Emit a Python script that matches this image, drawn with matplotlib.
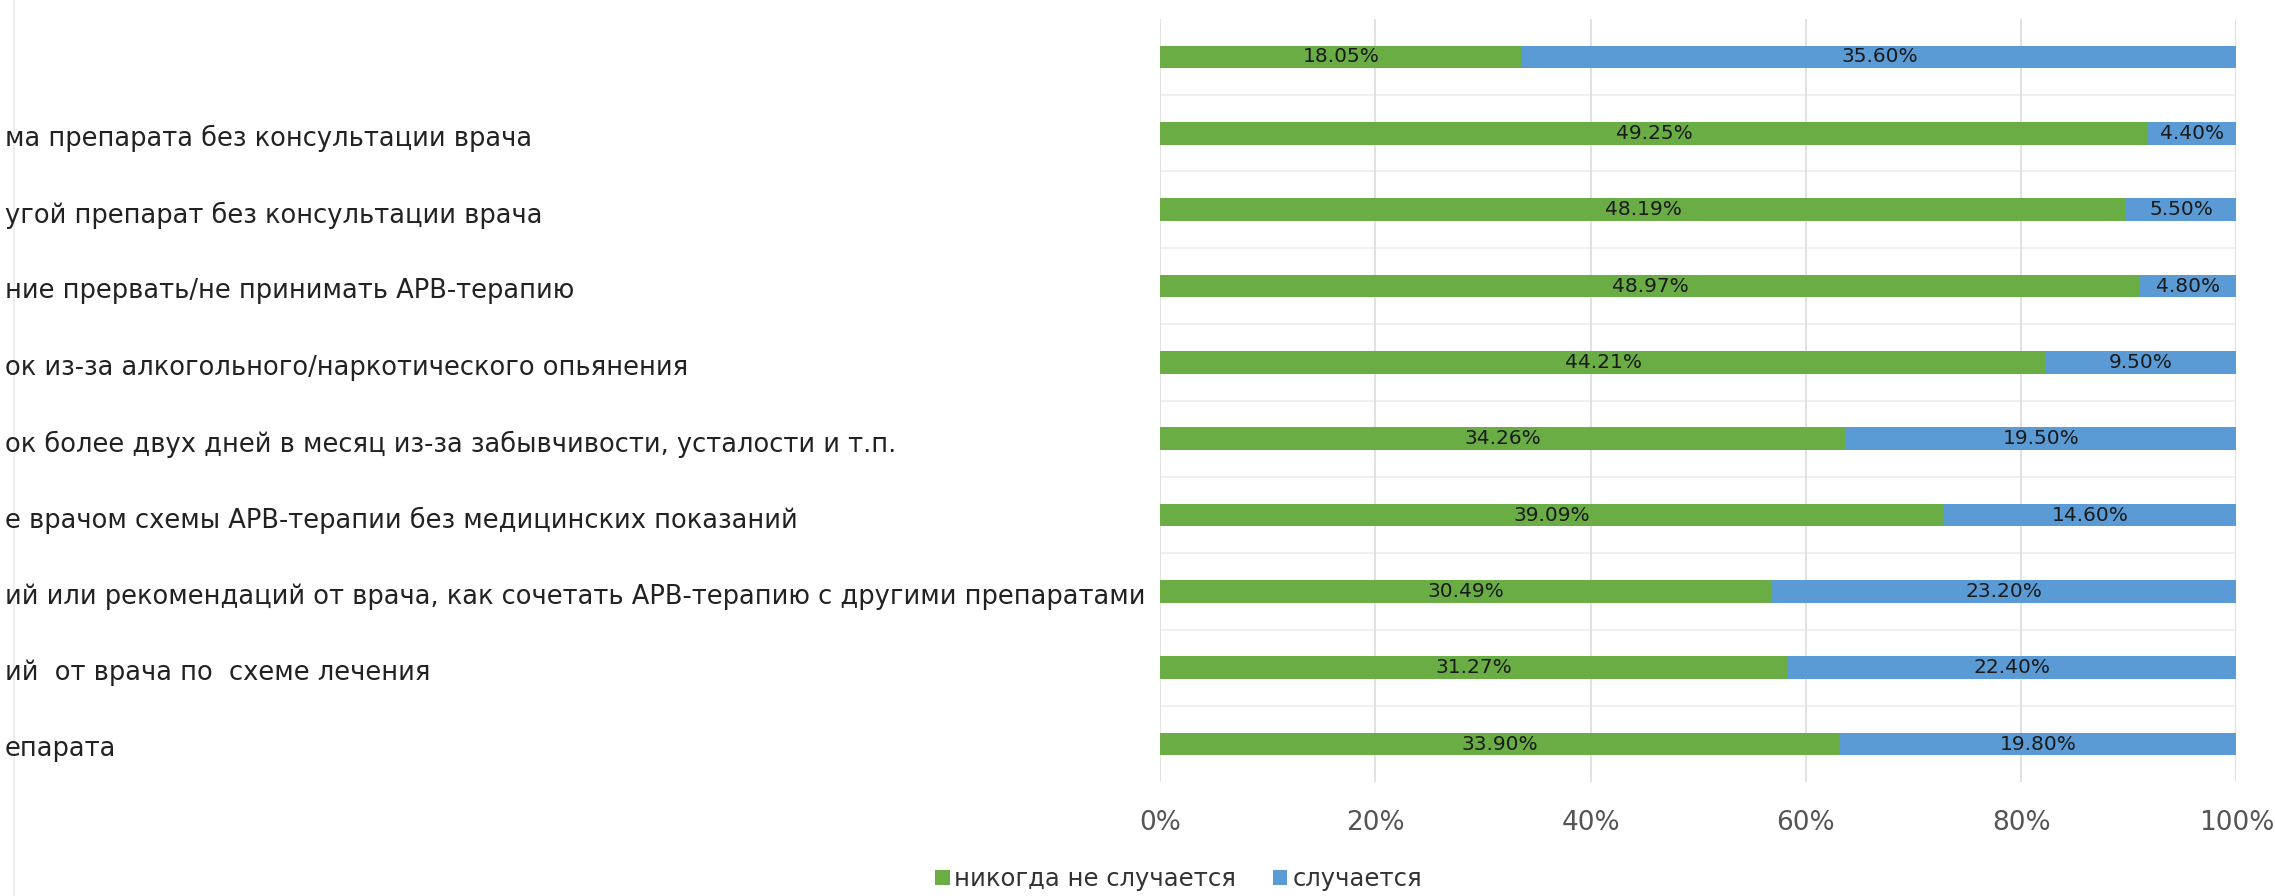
import numpy as np
import matplotlib
matplotlib.use("Agg")
import matplotlib.pyplot as plt
from matplotlib.ticker import PercentFormatter

# Survey rows (top to bottom), left part of each label as shown
labels = [
    "",
    "ма препарата без консультации врача",
    "угой препарат без консультации врача",
    "ние прервать/не принимать АРВ-терапию",
    "ок из-за алкогольного/наркотического опьянения",
    "ок более двух дней в месяц из-за забывчивости, усталости и т.п.",
    "е врачом схемы АРВ-терапии без медицинских показаний",
    "ий или рекомендаций от врача, как сочетать АРВ-терапию с другими препаратами",
    "ий  от врача по  схеме лечения",
    "епарата",
]
never = [18.05, 49.25, 48.19, 48.97, 44.21, 34.26, 39.09, 30.49, 31.27, 33.90]
happens = [35.60, 4.40, 5.50, 4.80, 9.50, 19.50, 14.60, 23.20, 22.40, 19.80]
series_names = ["никогда не случается", "случается"]

green = "#6aad45"
blue = "#5b9bd5"

plt.rcParams["font.family"] = ["DejaVu Sans"]

never = np.array(never)
happens = np.array(happens)
total = never + happens
never_share = never / total * 100
happens_share = happens / total * 100

fig = plt.figure(figsize=(22.75, 8.96), dpi=100)
ax = fig.add_axes([0.510, 0.127, 0.473, 0.852])

y = np.arange(len(labels))
b1 = ax.barh(y, never_share, height=0.3, color=green, label=series_names[0], zorder=3)
b2 = ax.barh(y, happens_share, left=never_share, height=0.3, color=blue,
             label=series_names[1], zorder=3)

# value labels in the middle of each segment
for i in range(len(labels)):
    ax.text(never_share[i] / 2, y[i], f"{never[i]:.2f}%", ha="center", va="center",
            fontsize=14.5, color="#1a1a1a", zorder=4)
    ax.text(never_share[i] + happens_share[i] / 2, y[i], f"{happens[i]:.2f}%",
            ha="center", va="center", fontsize=14.5, color="#1a1a1a", zorder=4)

ax.set_xlim(0, 100)
ax.set_ylim(len(labels) - 0.5, -0.5)
ax.xaxis.set_major_formatter(PercentFormatter(decimals=0))
ax.set_xticks(np.arange(0, 101, 20))
ax.grid(axis="x", color="#dcdcdc", linewidth=1.2, zorder=0)
for k in range(len(labels) - 1):
    ax.axhline(k + 0.5, color="#eeeeee", linewidth=1.2, zorder=1)
ax.set_yticks([])
ax.tick_params(axis="x", length=0, pad=20, labelsize=19, labelcolor="#555555")
for s in ax.spines.values():
    s.set_visible(False)

# faint chart border on the left
fig.add_artist(plt.Line2D([0.006, 0.006], [0.0, 1.0], color="#eeeeee", linewidth=1.5))

# category labels start at the left edge of the figure
for i, lab in enumerate(labels):
    fig.text(0.002, ax.transData.transform((0, y[i]))[1] / fig.bbox.height - 0.006, lab,
             ha="left", va="center", fontsize=18.5, color="#222222")

fig.legend(handles=[b1, b2], loc="center", bbox_to_anchor=(0.518, 0.019), ncol=2,
           frameon=False, fontsize=17.5, handlelength=0.6, handleheight=0.6,
           handletextpad=0.2, columnspacing=1.5, labelcolor="#333333")

fig.savefig("out.png", dpi=100, facecolor="white")
